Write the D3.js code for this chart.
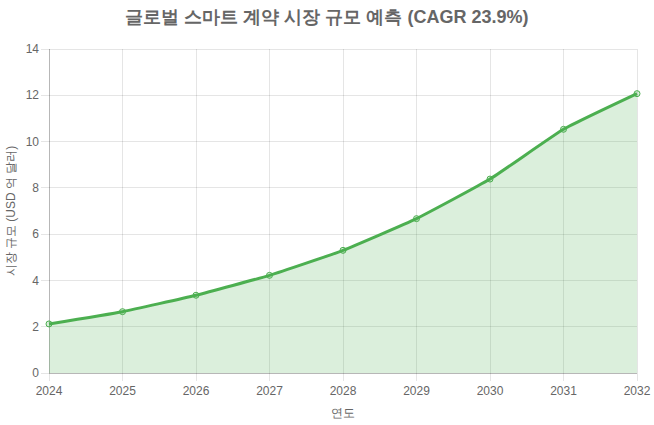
<!DOCTYPE html>
<html><head><meta charset="utf-8">
<script src="https://cdn.jsdelivr.net/npm/d3@7"></script>
<style>body{margin:0;background:#fff;}svg{display:block;}</style>
</head><body>
<svg id="c" width="654" height="425"></svg>
<script>
const years = ["2024","2025","2026","2027","2028","2029","2030","2031","2032"];
const marketSize = [2.12, 2.65, 3.36, 4.22, 5.30, 6.67, 8.38, 10.53, 12.07];
const yTicks = [0, 2, 4, 6, 8, 10, 12, 14];
const title = "글로벌 스마트 계약 시장 규모 예측 (CAGR 23.9%)";
const xTitle = "연도";
const yTitle = "시장 규모 (USD 억 달러)";

const svg = d3.select("#c");
const font = "'Liberation Sans', Arial, Helvetica, sans-serif";
const m = {l:49, r:17, t:49, b:52};
const W = 654, H = 425;
const x = d3.scalePoint().domain(years).range([m.l, W - m.r]);
const y = d3.scaleLinear().domain([0, 14]).range([H - m.b, m.t]);
const green = "rgb(76,175,80)";

// grid
const g = svg.append("g");
g.selectAll(".hg").data(yTicks).join("line")
  .attr("x1", m.l - 8).attr("x2", W - m.r)
  .attr("y1", d => y(d)).attr("y2", d => y(d))
  .attr("stroke", "rgba(0,0,0,0.1)").attr("shape-rendering","crispEdges");
g.selectAll(".vg").data(years).join("line")
  .attr("x1", d => x(d)).attr("x2", d => x(d))
  .attr("y1", m.t).attr("y2", H - m.b + 8)
  .attr("stroke", "rgba(0,0,0,0.1)").attr("shape-rendering","crispEdges");
// axis borders
svg.append("line").attr("x1", m.l).attr("x2", m.l).attr("y1", m.t).attr("y2", H - m.b)
  .attr("stroke","rgba(0,0,0,0.2)").attr("shape-rendering","crispEdges");
svg.append("line").attr("x1", m.l).attr("x2", W - m.r).attr("y1", H - m.b).attr("y2", H - m.b)
  .attr("stroke","rgba(0,0,0,0.2)").attr("shape-rendering","crispEdges");

// tick labels
svg.selectAll(".yl").data(yTicks).join("text")
  .attr("x", m.l - 10).attr("y", d => y(d)).attr("dy", "0.35em")
  .attr("text-anchor","end").attr("font-family", font).attr("font-size", 12).attr("fill","#666")
  .text(d => d);
svg.selectAll(".xl").data(years).join("text")
  .attr("x", d => x(d)).attr("y", H - m.b + 22)
  .attr("text-anchor","middle").attr("font-family", font).attr("font-size", 12).attr("fill","#666")
  .text(d => d);

const pts = years.map((d,i) => [x(d), y(marketSize[i])]);
const curve = d3.curveCardinal.tension(0.6);
svg.append("path")
  .attr("d", d3.area().x(d=>d[0]).y0(y(0)).y1(d=>d[1]).curve(curve)(pts))
  .attr("fill","rgba(76,175,80,0.2)");
svg.append("path")
  .attr("d", d3.line().x(d=>d[0]).y(d=>d[1]).curve(curve)(pts))
  .attr("fill","none").attr("stroke", green).attr("stroke-width", 3);
svg.selectAll(".pt").data(pts).join("circle")
  .attr("cx", d=>d[0]).attr("cy", d=>d[1]).attr("r", 3)
  .attr("fill","rgba(76,175,80,0.2)").attr("stroke", green).attr("stroke-width", 1);

// titles
svg.append("text").attr("x", W/2).attr("y", 23).attr("text-anchor","middle")
  .attr("font-family", font).attr("font-size", 18).attr("font-weight","bold").attr("fill","#666")
  .text(title);
svg.append("text").attr("x", (m.l + W - m.r)/2).attr("y", H - 8).attr("text-anchor","middle")
  .attr("font-family", font).attr("font-size", 12).attr("fill","#666").text(xTitle);
svg.append("text").attr("transform", `translate(15,${(m.t + H - m.b)/2}) rotate(-90)`)
  .attr("text-anchor","middle").attr("font-family", font).attr("font-size", 12).attr("fill","#666").text(yTitle);
</script>
</body></html>
